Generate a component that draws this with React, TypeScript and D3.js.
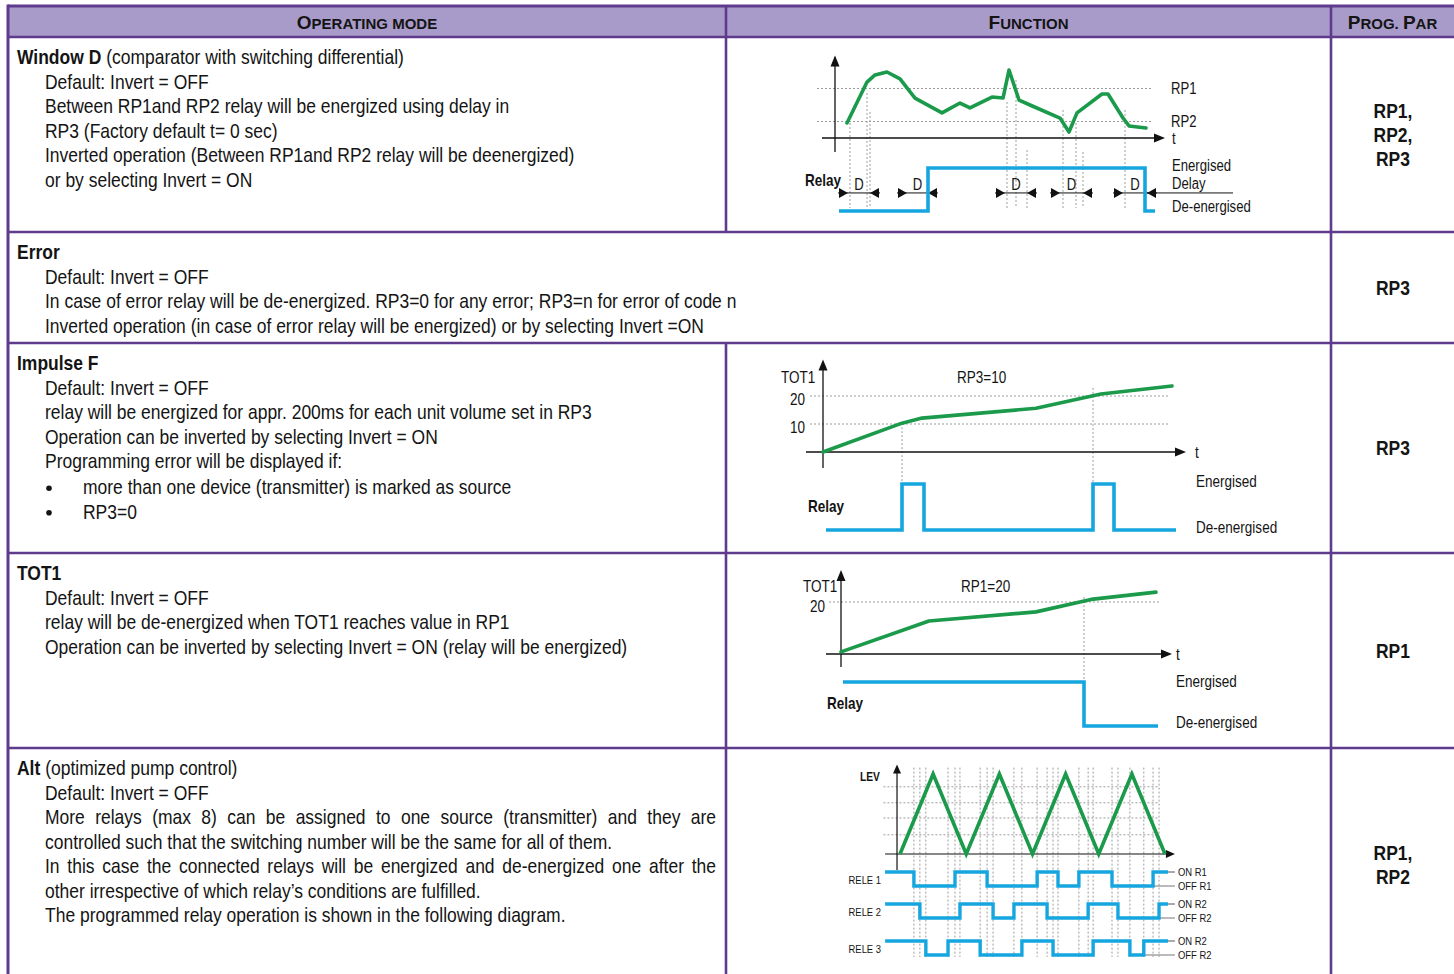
import React, { useLayoutEffect, useRef } from "react";
import * as d3 from "d3";

// ---------------- DATA ----------------
// header labels: alternating [capital, small-caps] segments
const headOperating = ["O", "PERATING MODE"];
const headFunction = ["F", "UNCTION"];
const headProg = ["P", "ROG. ", "P", "AR"];

// operating mode rows
const modeTitles = ["Window D", "Error", "Impulse F", "TOT1", "Alt"];
const modeTitleRest = [" (comparator with switching differential)", "", "", "", " (optimized pump control)"];
const modeLines = [
  [
    "Default: Invert = OFF",
    "Between RP1and RP2 relay will be energized using delay in",
    "RP3 (Factory default t= 0 sec)",
    "Inverted operation (Between RP1and RP2 relay will be deenergized)",
    "or by selecting Invert = ON",
  ],
  [
    "Default: Invert = OFF",
    "In case of error relay will be de-energized. RP3=0 for any error; RP3=n for error of code n",
    "Inverted operation (in case of error relay will be energized) or by selecting Invert =ON",
  ],
  [
    "Default: Invert = OFF",
    "relay will be energized for appr. 200ms for each unit volume set in RP3",
    "Operation can be inverted by selecting Invert = ON",
    "Programming error will be displayed if:",
  ],
  [
    "Default: Invert = OFF",
    "relay will be de-energized when TOT1 reaches value in RP1",
    "Operation can be inverted by selecting Invert = ON (relay will be energized)",
  ],
  [
    "Default: Invert = OFF",
    "More relays (max 8) can be assigned to one source (transmitter) and they are",
    "controlled such that the switching number will be the same for all of them.",
    "In this case the connected relays will be energized and de-energized one after the",
    "other irrespective of which relay\u2019s conditions are fulfilled.",
    "The programmed relay operation is shown in the following diagram.",
  ],
];
const modeJustified = [[], [], [], [], [1, 3]];
const modeBullets = [[], [], ["more than one device (transmitter) is marked as source", "RP3=0"], [], []];
const progParams = [["RP1,", "RP2,", "RP3"], ["RP3"], ["RP3"], ["RP1"], ["RP1,", "RP2"]];

// Window D diagram
const winT = [1.2, 3.2, 4.0, 5.2, 6.5, 8.0, 10.7, 12.5, 13.5, 15.7, 16.8, 17.4, 18.4, 19.5, 22.5, 23.4, 24.2, 26.7, 27.3, 28.8, 29.4, 31.1];
const winLevel = [0.91, 3.39, 3.82, 4.0, 3.58, 2.42, 1.52, 2.12, 1.82, 2.48, 2.42, 4.12, 2.3, 2.0, 1.21, 0.36, 1.52, 2.67, 2.67, 1.21, 0.73, 0.61];
const winThresholdNames = ["RP1", "RP2"];
const winThresholdLevels = [3, 1];
const winRelayT = [0.4, 9.3, 31.0, 32.0];
const winRelayState = [0, 1, 0, 0];
const winDelayStart = [1.3, 7.2, 17.0, 22.5, 28.8];
const winDelayEnd = [3.5, 9.3, 19.2, 24.8, 31.2];
const winDelayTailEnd = 39.8;
const winGuideT = [1.5, 3.2, 3.5, 17.2, 18.1, 19.2, 22.8, 24.1, 24.8, 29.0];
const winGuideTop = [0.91, 2.73, 1.58, 2.18, 3.52, -0.73, 1.7, 0.91, -0.85, 1.7];

// Impulse F diagram
const impT = [0, 7.9, 9.9, 21.3, 27.8, 34.9];
const impTot = [0, 10.3, 12.1, 15.6, 20.7, 23.6];
const impGrid = [10, 20];
const impRelayT = [0.3, 7.9, 10.1, 27.0, 29.1, 35.3];
const impRelayState = [0, 1, 0, 1, 0, 0];
const impGuideT = [7.9, 27.0];
const impGuideTop = [10.3, 22.9];

// TOT1 diagram
const totT = [0, 8.8, 19.5, 25.0, 31.5];
const totVal = [0.8, 12.7, 16.2, 21.0, 23.8];
const totGrid = [20];
const totRelayT = [0.2, 24.3, 31.7];
const totRelayState = [1, 0, 0];
const totGuideT = [24.3];
const totGuideTop = [21.9];

// Alt diagram
const altT = [0, 1, 2, 3, 4, 5, 6, 7, 8];
const altLev = [0, 1, 0, 1, 0, 1, 0, 1, 0];
const altGrid = [0.24, 0.45, 0.64, 0.84];
const altRelayNames = ["RELE 1", "RELE 2", "RELE 3"];
const altOnLabels = ["ON R1", "ON R2", "ON R2"];
const altOffLabels = ["OFF R1", "OFF R2", "OFF R2"];
const altRelayT = [
  [-0.45, 0.42, 1.66, 2.63, 4.14, 4.77, 5.4, 6.4, 7.64, 8.09],
  [-0.45, 0.6, 1.81, 2.81, 3.44, 4.44, 5.68, 6.58, 7.82, 8.09],
  [-0.45, 0.78, 1.45, 2.42, 3.68, 4.62, 5.83, 6.94, 7.36, 8.09],
];
const altRelayState = [
  [1, 0, 1, 0, 1, 0, 1, 0, 1, 1],
  [1, 0, 1, 0, 1, 0, 1, 0, 1, 1],
  [1, 0, 1, 0, 1, 0, 1, 0, 1, 1],
];

// ---------------- STYLE ----------------
const SX = 0.82;
const BODY_SX = 0.857;
const FONT = "'Liberation Sans', Arial, sans-serif";
const BORDER = "#5f3b8d";
const HEAD_FILL = "#a99bc9";
const GREEN = "#1a9a4a";
const BLUE = "#16a6df";
const DOT = "#9c9c9c";
const INK = "#141414";

const colX = [8, 726, 1331, 1458];
const rowY = [6, 37, 232, 343, 553, 748, 982];

type P = [number, number];

function NT(props: any) {
  const { x, y, size = 20.4, bold = false, anchor = "start", fill = INK, justify, sx = SX, children } = props;
  return (
    <text
      transform={`translate(${x},${y}) scale(${sx},1)`}
      fontSize={size}
      fontWeight={bold ? "bold" : "normal"}
      textAnchor={anchor}
      fill={fill}
      fontFamily={FONT}
      data-justify={justify}
      data-sx={sx}
    >
      {children}
    </text>
  );
}

function Arrow({ x, y, dir, len = 10, half = 5 }: { x: number; y: number; dir: string; len?: number; half?: number }) {
  let pts: P[];
  if (dir === "up") pts = [[x, y], [x - half, y + len], [x + half, y + len]];
  else if (dir === "right") pts = [[x, y], [x - len, y - half], [x - len, y + half]];
  else pts = [[x, y], [x + len, y - half], [x + len, y + half]];
  return <polygon points={pts.map((p) => p.join(",")).join(" ")} fill="#111" />;
}

function Header({ segs, cx, cy }: { segs: string[]; cx: number; cy: number }) {
  return (
    <text x={cx} y={cy} textAnchor="middle" fontFamily={FONT} fontWeight="bold" fill={INK}>
      {segs.map((s, i) => (
        <tspan key={i} fontSize={i % 2 === 0 ? 19 : 15}>
          {s}
        </tspan>
      ))}
    </text>
  );
}

export default function App() {
  const ref = useRef<SVGSVGElement>(null);

  useLayoutEffect(() => {
    document.body.style.margin = "0";
    const svg = ref.current;
    if (!svg) return;
    svg.querySelectorAll<SVGTextElement>("text[data-justify]").forEach((el) => {
      el.style.wordSpacing = "0px";
      const sx = Number(el.getAttribute("data-sx")) || 1;
      const target = Number(el.getAttribute("data-justify")) / sx;
      const natural = el.getComputedTextLength();
      const n = (el.textContent || "").split(" ").length - 1;
      if (n > 0) el.style.wordSpacing = `${(target - natural) / n}px`;
    });
  }, []);

  const W = 1454;
  const H = 974;

  // ---------- Window D scales ----------
  const xW = d3.scaleLinear().domain([0, 33]).range([835, 1165]);
  const yW = d3.scaleLinear().domain([0, 3]).range([138, 88.5]);
  const rW = d3.scaleLinear().domain([0, 1]).range([211, 168]);
  const winPts: P[] = winT.map((t, i) => [t, winLevel[i]]);
  const lineW = d3.line<P>().x((d) => xW(d[0])).y((d) => yW(d[1]));
  const stepW = d3.line<P>().x((d) => xW(d[0])).y((d) => rW(d[1])).curve(d3.curveStepAfter);
  const winRelayPts: P[] = winRelayT.map((t, i) => [t, winRelayState[i]]);
  const arrowY = rW(0.42);

  // ---------- Impulse scales ----------
  const xI = d3.scaleLinear().domain([0, 36.3]).range([823, 1186]);
  const yI = d3.scaleLinear().domain([0, 20]).range([452, 396]);
  const rI = d3.scaleLinear().domain([0, 1]).range([530, 484]);
  const lineI = d3.line<P>().x((d) => xI(d[0])).y((d) => yI(d[1]));
  const stepI = d3.line<P>().x((d) => xI(d[0])).y((d) => rI(d[1])).curve(d3.curveStepAfter);

  // ---------- TOT1 scales ----------
  const xT = d3.scaleLinear().domain([0, 33.1]).range([841, 1172]);
  const yT = d3.scaleLinear().domain([0, 20]).range([654, 602]);
  const rT = d3.scaleLinear().domain([0, 1]).range([726, 682]);
  const lineT = d3.line<P>().x((d) => xT(d[0])).y((d) => yT(d[1]));
  const stepT = d3.line<P>().x((d) => xT(d[0])).y((d) => rT(d[1])).curve(d3.curveStepAfter);

  // ---------- Alt scales ----------
  const xA = d3.scaleLinear().domain([0, 8]).range([900, 1165]);
  const yA = d3.scaleLinear().domain([0, 1]).range([854, 774]);
  const rowBase = d3.scaleOrdinal<string, number>().domain(altRelayNames).range([886, 918, 955]);
  const relAmp = 14;
  const lineA = d3.line<P>().x((d) => xA(d[0])).y((d) => yA(d[1]));
  const altGuides = Array.from(
    new Set(altRelayT.flatMap((ts) => ts.slice(1, ts.length - 1)))
  ).sort((a, b) => a - b);

  const LH = 24.55;

  return (
    <svg ref={ref} width={W} height={H} style={{ position: "absolute", left: 0, top: 0, background: "#fff" }}>
      {/* header band */}
      <rect x={colX[0]} y={rowY[0]} width={colX[3] - colX[0]} height={rowY[1] - rowY[0]} fill={HEAD_FILL} />
      <Header segs={headOperating} cx={(colX[0] + colX[1]) / 2} cy={29} />
      <Header segs={headFunction} cx={(colX[1] + colX[2]) / 2} cy={29} />
      <Header segs={headProg} cx={(colX[2] + colX[3]) / 2 - 2} cy={29} />

      {/* grid lines of table */}
      <line x1={colX[0]} x2={colX[3]} y1={rowY[0]} y2={rowY[0]} stroke={BORDER} strokeWidth={3} />
      {rowY.slice(1).map((y, i) => (
        <line key={"h" + i} x1={colX[0]} x2={colX[3]} y1={y} y2={y} stroke={BORDER} strokeWidth={2.6} />
      ))}
      <line x1={colX[0]} x2={colX[0]} y1={rowY[0] - 1.5} y2={H} stroke={BORDER} strokeWidth={3} />
      <line x1={colX[2]} x2={colX[2]} y1={rowY[0]} y2={H} stroke={BORDER} strokeWidth={2.6} />
      <line x1={colX[1]} x2={colX[1]} y1={rowY[0]} y2={rowY[2]} stroke={BORDER} strokeWidth={2.6} />
      <line x1={colX[1]} x2={colX[1]} y1={rowY[3]} y2={H} stroke={BORDER} strokeWidth={2.6} />

      {/* text column */}
      {modeTitles.map((title, r) => {
        const top = rowY[r + 1];
        const b0 = top + 27;
        const lines = modeLines[r];
        const bullets = modeBullets[r];
        return (
          <g key={"m" + r}>
            <text transform={`translate(17,${b0}) scale(${BODY_SX},1)`} fontSize={20.4} fontFamily={FONT} fill={INK}>
              <tspan fontWeight="bold">{title}</tspan>
              <tspan>{modeTitleRest[r]}</tspan>
            </text>
            {lines.map((ln, i) => (
              <NT
                key={i}
                x={45}
                y={b0 + LH * (i + 1)}
                sx={BODY_SX}
                justify={modeJustified[r].includes(i) ? 671 : undefined}
              >
                {ln}
              </NT>
            ))}
            {bullets.map((bt, i) => {
              const by = b0 + LH * (lines.length + 1 + i) + 1.5;
              return (
                <g key={"b" + i}>
                  <circle cx={49} cy={by - 6} r={2.8} fill={INK} />
                  <NT x={83} y={by} sx={BODY_SX}>
                    {bt}
                  </NT>
                </g>
              );
            })}
          </g>
        );
      })}

      {/* prog par column */}
      {progParams.map((ps, r) => {
        const c = (rowY[r + 1] + rowY[r + 2]) / 2;
        const n = ps.length;
        return (
          <g key={"p" + r}>
            {ps.map((p, i) => (
              <NT key={i} x={1393} y={c + (i - (n - 1) / 2) * 24 + 7} bold anchor="middle" sx={BODY_SX}>
                {p}
              </NT>
            ))}
          </g>
        );
      })}

      {/* ============ Window D diagram ============ */}
      <g>
        {winThresholdLevels.map((lv, i) => (
          <g key={"th" + i}>
            <line x1={xW(-1.8)} x2={xW(31.7)} y1={yW(lv)} y2={yW(lv)} stroke={DOT} strokeDasharray="2 2" />
            <NT x={1171} y={yW(lv) + 5} size={16}>
              {winThresholdNames[i]}
            </NT>
          </g>
        ))}
        {winGuideT.map((t, i) => (
          <line key={"wg" + i} x1={xW(t)} x2={xW(t)} y1={yW(winGuideTop[i])} y2={rW(0.07)} stroke={DOT} strokeDasharray="2 2" />
        ))}
        {/* axes */}
        <line x1={xW(0)} x2={xW(0)} y1={yW(-0.85)} y2={yW(4.9)} stroke="#111" strokeWidth={1.3} />
        <Arrow x={xW(0)} y={yW(5)} dir="up" len={11} half={4.5} />
        <line x1={xW(-1.3)} x2={xW(32)} y1={yW(0)} y2={yW(0)} stroke="#111" strokeWidth={1.3} />
        <Arrow x={xW(33)} y={yW(0)} dir="right" len={11} half={4.5} />
        <NT x={xW(33) + 7} y={yW(0) + 6} size={16}>
          t
        </NT>
        <path d={lineW(winPts) || ""} fill="none" stroke={GREEN} strokeWidth={3.6} strokeLinejoin="round" strokeLinecap="round" />
        {/* delay arrows */}
        <line x1={xW(winDelayEnd[4])} x2={xW(winDelayTailEnd)} y1={arrowY} y2={arrowY} stroke="#111" strokeWidth={1} />
        {winDelayStart.map((s, i) => {
          const e = winDelayEnd[i];
          return (
            <g key={"d" + i}>
              <line x1={xW(s)} x2={xW(e)} y1={arrowY} y2={arrowY} stroke="#111" strokeWidth={1} />
              <line x1={xW(s) - 10} x2={xW(s)} y1={arrowY} y2={arrowY} stroke="#111" strokeWidth={1} />
              <line x1={xW(e)} x2={xW(e) + 10} y1={arrowY} y2={arrowY} stroke="#111" strokeWidth={1} />
              <Arrow x={xW(s)} y={arrowY} dir="right" len={9} half={5} />
              <Arrow x={xW(e)} y={arrowY} dir="left" len={9} half={5} />
              <NT x={(xW(s) + xW(e)) / 2} y={arrowY - 3} size={16} anchor="middle">
                D
              </NT>
            </g>
          );
        })}
        <path d={stepW(winRelayPts) || ""} fill="none" stroke={BLUE} strokeWidth={3.6} />
        <NT x={805} y={186} size={16.5} bold>
          Relay
        </NT>
        <NT x={1172} y={171} size={16}>
          Energised
        </NT>
        <NT x={1172} y={189} size={16}>
          Delay
        </NT>
        <NT x={1172} y={212} size={16}>
          De-energised
        </NT>
      </g>

      {/* ============ Impulse F diagram ============ */}
      <g>
        {impGrid.map((g, i) => (
          <g key={"ig" + i}>
            <line x1={xI(-1.3)} x2={xI(34.6)} y1={yI(g)} y2={yI(g)} stroke={DOT} strokeDasharray="2 2" />
            <NT x={805} y={yI(g) + 9} size={16.5} anchor="end">
              {String(g)}
            </NT>
          </g>
        ))}
        {impGuideT.map((t, i) => (
          <line key={"igt" + i} x1={xI(t)} x2={xI(t)} y1={yI(impGuideTop[i])} y2={rI(1)} stroke={DOT} strokeDasharray="2 2" />
        ))}
        <line x1={xI(0)} x2={xI(0)} y1={yI(-5.7)} y2={yI(31)} stroke="#111" strokeWidth={1.3} />
        <Arrow x={xI(0)} y={yI(33)} dir="up" len={11} half={4.5} />
        <line x1={xI(-1.7)} x2={xI(35.5)} y1={yI(0)} y2={yI(0)} stroke="#111" strokeWidth={1.3} />
        <Arrow x={xI(36.3)} y={yI(0)} dir="right" len={11} half={4.5} />
        <NT x={1195} y={458} size={16.5}>
          t
        </NT>
        <path d={lineI(impT.map((t, i) => [t, impTot[i]] as P)) || ""} fill="none" stroke={GREEN} strokeWidth={3.6} strokeLinejoin="round" strokeLinecap="round" />
        <path d={stepI(impRelayT.map((t, i) => [t, impRelayState[i]] as P)) || ""} fill="none" stroke={BLUE} strokeWidth={3.6} />
        <NT x={781} y={383} size={16.5}>
          TOT1
        </NT>
        <NT x={957} y={383} size={16.5}>
          RP3=10
        </NT>
        <NT x={808} y={512} size={16.5} bold>
          Relay
        </NT>
        <NT x={1196} y={487} size={16.5}>
          Energised
        </NT>
        <NT x={1196} y={533} size={16.5}>
          De-energised
        </NT>
      </g>

      {/* ============ TOT1 diagram ============ */}
      <g>
        {totGrid.map((g, i) => (
          <g key={"tg" + i}>
            <line x1={xT(-1.2)} x2={xT(32)} y1={yT(g)} y2={yT(g)} stroke={DOT} strokeDasharray="2 2" />
            <NT x={825} y={yT(g) + 10} size={16.5} anchor="end">
              {String(g)}
            </NT>
          </g>
        ))}
        {totGuideT.map((t, i) => (
          <line key={"tgt" + i} x1={xT(t)} x2={xT(t)} y1={yT(totGuideTop[i])} y2={rT(1)} stroke={DOT} strokeDasharray="2 2" />
        ))}
        <line x1={xT(0)} x2={xT(0)} y1={yT(-5)} y2={yT(30.5)} stroke="#111" strokeWidth={1.3} />
        <Arrow x={xT(0)} y={yT(32.3)} dir="up" len={11} half={4.5} />
        <line x1={xT(-1.5)} x2={xT(32.3)} y1={yT(0)} y2={yT(0)} stroke="#111" strokeWidth={1.3} />
        <Arrow x={xT(33.1)} y={yT(0)} dir="right" len={11} half={4.5} />
        <NT x={1176} y={660} size={16.5}>
          t
        </NT>
        <path d={lineT(totT.map((t, i) => [t, totVal[i]] as P)) || ""} fill="none" stroke={GREEN} strokeWidth={3.6} strokeLinejoin="round" strokeLinecap="round" />
        <path d={stepT(totRelayT.map((t, i) => [t, totRelayState[i]] as P)) || ""} fill="none" stroke={BLUE} strokeWidth={3.6} />
        <NT x={803} y={592} size={16.5}>
          TOT1
        </NT>
        <NT x={961} y={592} size={16.5}>
          RP1=20
        </NT>
        <NT x={827} y={709} size={16.5} bold>
          Relay
        </NT>
        <NT x={1176} y={687} size={16.5}>
          Energised
        </NT>
        <NT x={1176} y={728} size={16.5}>
          De-energised
        </NT>
      </g>

      {/* ============ Alt diagram ============ */}
      <g>
        {altGrid.map((g, i) => (
          <line key={"ag" + i} x1={xA(-0.5)} x2={xA(7.8)} y1={yA(g)} y2={yA(g)} stroke={DOT} strokeDasharray="2 2" />
        ))}
        {altGuides.map((t, i) => (
          <line key={"av" + i} x1={xA(t)} x2={xA(t)} y1={yA(1.08)} y2={957} stroke={DOT} strokeDasharray="2 2" />
        ))}
        <line x1={xA(-0.09)} x2={xA(-0.09)} y1={yA(-0.2)} y2={yA(1.05)} stroke="#111" strokeWidth={1.2} />
        <Arrow x={xA(-0.09)} y={yA(1.12)} dir="up" len={9} half={4} />
        <line x1={xA(-0.45)} x2={xA(8.2)} y1={yA(0)} y2={yA(0)} stroke="#111" strokeWidth={1.2} />
        <Arrow x={xA(8.3)} y={yA(0)} dir="right" len={9} half={4} />
        <path d={lineA(altT.map((t, i) => [t, altLev[i]] as P)) || ""} fill="none" stroke={GREEN} strokeWidth={3.6} strokeLinejoin="miter" />
        <NT x={860} y={781} size={12.5} bold>
          LEV
        </NT>
        {altRelayNames.map((name, k) => {
          const base = rowBase(name);
          const ts = altRelayT[k];
          const st = altRelayState[k];
          const step = d3
            .line<P>()
            .x((d) => xA(d[0]))
            .y((d) => base - d[1] * relAmp)
            .curve(d3.curveStepAfter);
          const lastRise = ts[ts.length - 2];
          return (
            <g key={name}>
              <line x1={xA(ts[ts.length - 1])} x2={xA(8.3)} y1={base - relAmp} y2={base - relAmp} stroke="#555" strokeWidth={1} />
              <line x1={xA(lastRise)} x2={xA(8.3)} y1={base} y2={base} stroke="#777" strokeWidth={1} />
              <path d={step(ts.map((t, i) => [t, st[i]] as P)) || ""} fill="none" stroke={BLUE} strokeWidth={3.4} />
              <NT x={881} y={base - 2} size={11.5} anchor="end">
                {name}
              </NT>
              <NT x={1178} y={base - relAmp + 4} size={11.5}>
                {altOnLabels[k]}
              </NT>
              <NT x={1178} y={base + 4} size={11.5}>
                {altOffLabels[k]}
              </NT>
            </g>
          );
        })}
      </g>
    </svg>
  );
}
